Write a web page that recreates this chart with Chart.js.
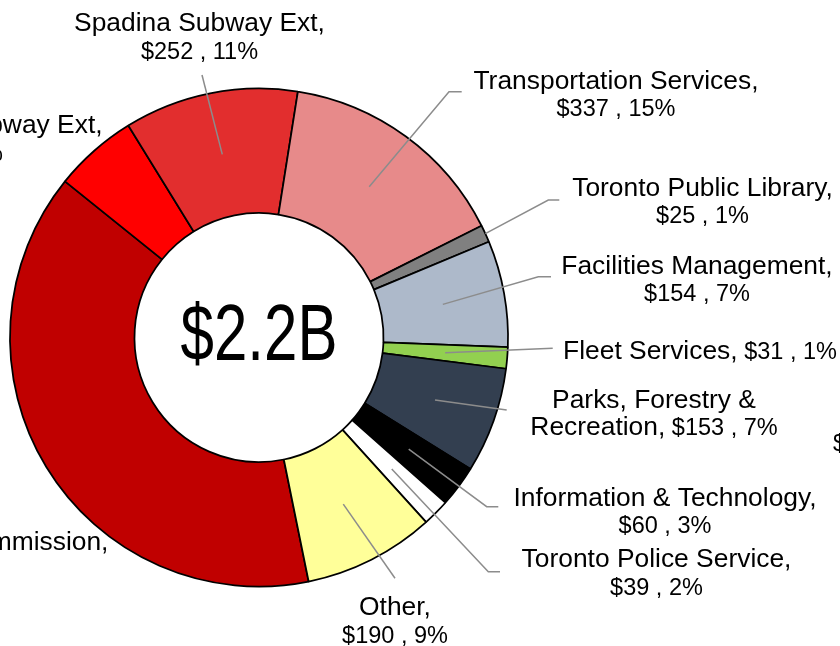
<!DOCTYPE html>
<html lang="en">
<head>
<meta charset="UTF-8">
<title>Capital Budget by Program</title>
<script src="https://cdn.jsdelivr.net/npm/chart.js@4"></script>
<style>
    body { margin: 0; background: #fff; }
    #chart-wrapper { position: relative; width: 840px; height: 646px; overflow: hidden; }
</style>
</head>
<body>
<div id="chart-wrapper"><canvas id="chart_budget"></canvas></div>
<script>
// Programs clockwise from the TTC slice, amounts in $ millions
const programs = ['Toronto Transit Commission', 'Scarborough Subway Ext', 'Spadina Subway Ext',
    'Transportation Services', 'Toronto Public Library', 'Facilities Management', 'Fleet Services',
    'Parks, Forestry & Recreation', 'Information & Technology', 'Toronto Police Service', 'Other'];
const amounts = [870, 121, 252, 337, 25, 154, 31, 153, 60, 39, 190];
const sliceColors = ['#C00000', '#FF0000', '#E22E2E', '#E78A8A', '#808080', '#ADB9CA', '#92D050',
    '#333F50', '#000000', '#FFFFFF', '#FFFF99'];
const totalText = '$2.2B';

const total = amounts.reduce((a, b) => a + b, 0);
const shares = amounts.map(v => Math.round(v / total * 100));

// Label placement: x = text centre, y = first baseline, wrap = first line of a wrapped name,
// inline = value stays on the name line, lead = leader line points towards the label
const labelLayout = [
    { x: -59, y: 550 },
    { x: -50, y: 133 },
    { x: 199.5, y: 31, lead: [[202, 75]] },
    { x: 616, y: 88.5, lead: [[449, 91.7], [461.7, 91.7]] },
    { x: 702.5, y: 195.5, edge: true, lead: [[548.3, 200], [559.3, 200]] },
    { x: 697, y: 273.5, lead: [[538.3, 276.7], [551, 276.7]] },
    { x: 700, y: 358.5, inline: true, lead: [[552.7, 348.3]] },
    { x: 654, y: 407.5, wrap: 'Parks, Forestry &', inline: true, lead: [[506.7, 410]] },
    { x: 665, y: 505.5, lead: [[486.7, 506.7], [498.3, 506.7]] },
    { x: 656.5, y: 567, lead: [[488.3, 571.7], [500, 571.7]] },
    { x: 395, y: 615, lead: [[395, 578.3]] }
];
// edge of a neighbouring label that pokes in at the right border
const strayText = { t: '$', x: 833, y: 451 };

const nameFont = '26.4px "Liberation Sans", Arial, sans-serif';
const valueFont = '23.5px "Liberation Sans", Arial, sans-serif';
const lineGap = 27.6;

function labelLines(i) {
    const L = labelLayout[i];
    const name = programs[i] + ',';
    const value = '$' + amounts[i] + ' , ' + shares[i] + '%';
    let nameLines = [name];
    if (L.wrap) nameLines = [L.wrap, name.slice(L.wrap.length).trim()];
    const lines = nameLines.map(t => [{ t, f: nameFont }]);
    if (L.inline) lines[lines.length - 1].push({ t: ' ' + value, f: valueFont });
    else lines.push([{ t: value, f: valueFont }]);
    return lines;
}

const labelPlugin = {
    id: 'sliceLabels',
    afterDatasetsDraw(chart) {
        const ctx = chart.ctx;
        const arcs = chart.getDatasetMeta(0).data;
        ctx.save();

        // leader lines
        ctx.strokeStyle = '#8C8C8C';
        ctx.lineWidth = 1.5;
        arcs.forEach((arc, i) => {
            const L = labelLayout[i];
            if (!L.lead) return;
            const p = arc.getProps(['x', 'y', 'startAngle', 'endAngle', 'innerRadius', 'outerRadius'], true);
            const mid = (p.startAngle + p.endAngle) / 2;
            const r = L.edge ? p.outerRadius : (p.innerRadius + p.outerRadius) / 2;
            ctx.beginPath();
            ctx.moveTo(p.x + Math.cos(mid) * r, p.y + Math.sin(mid) * r);
            L.lead.forEach(pt => ctx.lineTo(pt[0], pt[1]));
            ctx.stroke();
        });

        // label texts
        ctx.fillStyle = '#000';
        ctx.textBaseline = 'alphabetic';
        ctx.textAlign = 'left';
        labelLayout.forEach((L, i) => {
            labelLines(i).forEach((segs, k) => {
                let w = 0;
                segs.forEach(s => { ctx.font = s.f; w += ctx.measureText(s.t).width; });
                let x = L.x - w / 2;
                const y = L.y + k * lineGap;
                segs.forEach(s => {
                    ctx.font = s.f;
                    ctx.fillText(s.t, x, y);
                    x += ctx.measureText(s.t).width;
                });
            });
        });
        ctx.font = valueFont;
        ctx.fillText(strayText.t, strayText.x, strayText.y);

        // total in the hole, squeezed to a narrow face
        const c = arcs[0];
        ctx.translate(c.x, c.y + 22.5);
        ctx.scale(0.75, 1);
        ctx.font = '80px "Liberation Sans", Arial, sans-serif';
        ctx.textAlign = 'center';
        ctx.fillText(totalText, 0, 0);
        ctx.restore();
    }
};

new Chart(document.getElementById('chart_budget').getContext('2d'), {
    type: 'doughnut',
    data: {
        labels: programs,
        datasets: [{
            data: amounts,
            backgroundColor: sliceColors,
            borderColor: '#000',
            borderWidth: 1.75,
            hoverOffset: 0
        }]
    },
    options: {
        responsive: true,
        maintainAspectRatio: false,
        animation: false,
        rotation: 168.5,
        cutout: '50%',
        layout: { padding: { left: 9.1, right: 331.1, top: 87.6, bottom: 58.6 } },
        plugins: { legend: { display: false }, tooltip: { enabled: false } }
    },
    plugins: [labelPlugin]
});
</script>
</body>
</html>
